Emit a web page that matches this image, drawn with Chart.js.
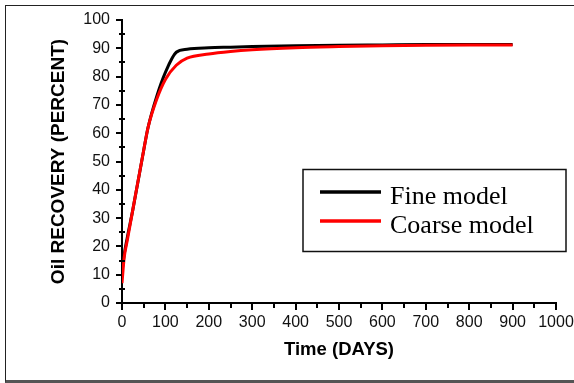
<!DOCTYPE html>
<html>
<head>
<meta charset="utf-8">
<script src="https://cdn.jsdelivr.net/npm/chart.js@4/dist/chart.umd.min.js"></script>
<style>
  html, body { margin: 0; padding: 0; background: #fff; }
  #wrap { position: relative; width: 574px; height: 383px; overflow: hidden; }
  #frame {
    position: absolute; left: 5px; top: 5px; width: 600px; height: 374px;
    border-left: 1px solid #222; border-top: 1px solid #222;
    border-bottom: 3px solid #555;
  }
  canvas { position: absolute; left: 0; top: 0; }
</style>
</head>
<body>
<div id="wrap">
  <div id="frame"></div>
  <canvas id="c" width="574" height="383"></canvas>
</div>
<script>
// Oil recovery history, fine vs coarse grid
const days        = [0, 5, 12, 25, 50, 60, 80, 100, 125, 150, 200, 250, 300, 400, 500, 600, 700, 800, 900];
const fineModel   = [11, 17, 23, 33, 54, 62, 73, 81.5, 88.6, 89.7, 90.2, 90.4, 90.6, 90.9, 91.1, 91.2, 91.3, 91.3, 91.3];
const coarseModel = [7, 16, 22, 33, 54, 62, 72, 79, 84, 86.5, 88.0, 88.9, 89.5, 90.2, 90.6, 90.9, 91.1, 91.2, 91.2];
const seriesNames = ['Fine model', 'Coarse model'];
const seriesColors = ['#000000', '#ff0000'];

const toPoints = (xs, ys) => xs.map((x, i) => ({ x: x, y: ys[i] }));

// short minor ticks halfway between the labelled ones
const minorTicks = {
  id: 'minorTicks',
  afterDraw(chart) {
    const { ctx, scales: { x, y }, chartArea } = chart;
    ctx.save();
    ctx.strokeStyle = '#000';
    ctx.lineWidth = 2;
    ctx.beginPath();
    for (let v = 5; v < 100; v += 10) {
      const py = Math.round(y.getPixelForValue(v));
      ctx.moveTo(chartArea.left - 3, py);
      ctx.lineTo(chartArea.left + 3, py);
    }
    for (let v = 50; v < 1000; v += 100) {
      const px = Math.round(x.getPixelForValue(v));
      ctx.moveTo(px, chartArea.bottom - 1);
      ctx.lineTo(px, chartArea.bottom + 5);
    }
    ctx.stroke();
    ctx.restore();
  }
};

// boxed legend sitting inside the plot
const boxLegend = {
  id: 'boxLegend',
  afterDraw(chart) {
    const ctx = chart.ctx;
    ctx.save();
    ctx.strokeStyle = '#111';
    ctx.lineWidth = 1.5;
    ctx.strokeRect(303, 169.5, 263, 82);
    const rows = [192, 221];
    ctx.font = '26px "Liberation Serif", "Times New Roman", serif';
    ctx.textBaseline = 'alphabetic';
    ctx.fillStyle = '#000';
    seriesNames.forEach((name, i) => {
      ctx.strokeStyle = seriesColors[i];
      ctx.lineWidth = 3.5;
      ctx.beginPath();
      ctx.moveTo(320, rows[i]);
      ctx.lineTo(381, rows[i]);
      ctx.stroke();
      ctx.fillText(name, 390, rows[i] + 12);
    });
    ctx.restore();
  }
};

new Chart(document.getElementById('c'), {
  type: 'line',
  data: {
    datasets: [
      { label: seriesNames[0], data: toPoints(days, fineModel), borderColor: seriesColors[0],
        borderWidth: 3, pointRadius: 0, cubicInterpolationMode: 'monotone', order: 2 },
      { label: seriesNames[1], data: toPoints(days, coarseModel), borderColor: seriesColors[1],
        borderWidth: 3, pointRadius: 0, cubicInterpolationMode: 'monotone', order: 1 }
    ]
  },
  options: {
    responsive: false,
    animation: false,
    events: [],
    layout: { autoPadding: false, padding: { left: 0, top: 20, right: 18, bottom: 0 } },
    plugins: { legend: { display: false }, tooltip: { enabled: false } },
    scales: {
      x: {
        type: 'linear', min: 0, max: 1000,
        afterFit(s) { s.height = 80; s.paddingLeft = 0; s.paddingRight = 0; },
        ticks: { stepSize: 100, color: '#111', padding: 3, minRotation: 0, maxRotation: 0,
                 autoSkip: false, callback: (v) => String(v),
                 font: { family: '"Liberation Sans", Arial, sans-serif', size: 16 } },
        grid: { display: true, drawOnChartArea: false, drawTicks: true, tickLength: 7,
                color: '#000', lineWidth: 2 },
        border: { display: true, color: '#000', width: 2 },
        title: { display: true, text: 'Time (DAYS)', color: '#000',
                 padding: { top: 0, bottom: 22 },
                 font: { family: '"Liberation Sans", Arial, sans-serif', size: 18.5, weight: 'bold' } }
      },
      y: {
        min: 0, max: 100,
        afterFit(s) { s.width = 122; },
        ticks: { stepSize: 10, color: '#111', padding: 6,
                 font: { family: '"Liberation Sans", Arial, sans-serif', size: 16 } },
        grid: { display: true, drawOnChartArea: false, drawTicks: true, tickLength: 6,
                color: '#000', lineWidth: 2 },
        border: { display: true, color: '#000', width: 2 },
        title: { display: true, text: 'Oil RECOVERY (PERCENT)', color: '#000',
                 padding: { top: 47, bottom: 0 },
                 font: { family: '"Liberation Sans", Arial, sans-serif', size: 19, weight: 'bold' } }
      }
    }
  },
  plugins: [minorTicks, boxLegend]
});
</script>
</body>
</html>
